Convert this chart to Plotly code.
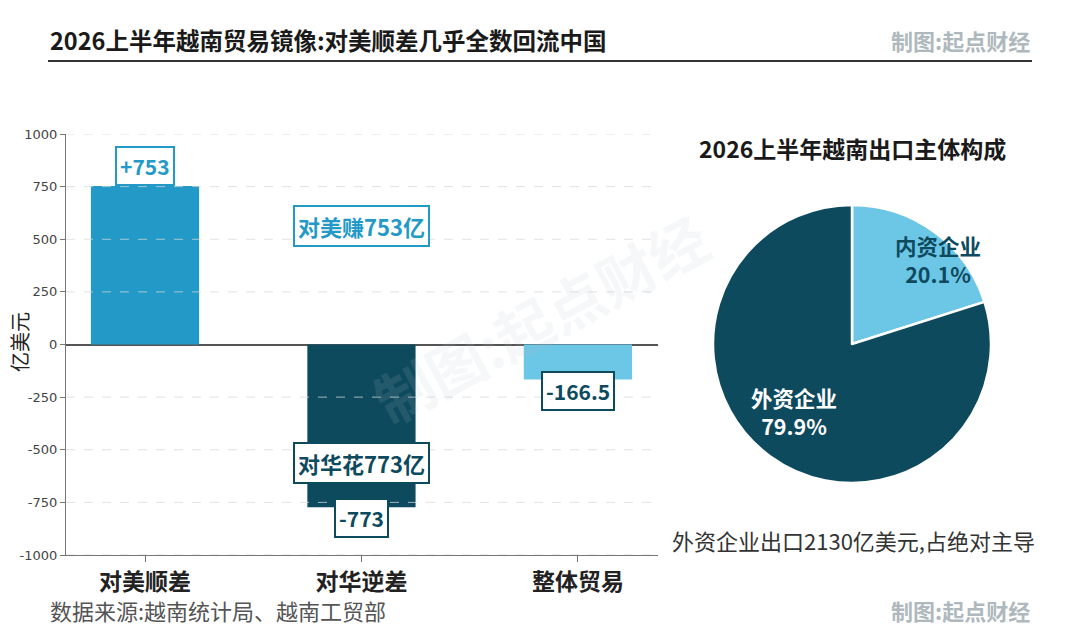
import plotly.graph_objects as go

# ---- data ----
categories = ["对美顺差", "对华逆差", "整体贸易"]
balances = [753, -773, -166.5]
bar_labels = ["+753", "-773", "-166.5"]
bar_colors = ["#2299C6", "#0E4A5E", "#6CC6E6"]
y_ticks = [-1000, -750, -500, -250, 0, 250, 500, 750, 1000]
y_tick_labels = ["-1000", "-750", "-500", "-250", "0", "250", "500", "750", "1000"]

pie_labels = ["内资企业", "外资企业"]
pie_values = [20.1, 79.9]
pie_colors = ["#6CC6E6", "#0E4A5E"]
pie_text_colors = ["#0E4A5E", "#FFFFFF"]

FONT = "Noto Sans CJK SC"
OFF = 8                      # page body margin
W, H = 1064, 622


def fx(s):
    return (s - OFF) / W


def fy(s):
    return 1 - (s - OFF) / H


fig = go.Figure()

fig.add_trace(go.Bar(
    x=list(range(len(categories))), y=balances, width=0.5,
    marker=dict(color=bar_colors, line=dict(width=0)),
    showlegend=False, hoverinfo="skip",
))

fig.add_trace(go.Pie(
    labels=pie_labels, values=pie_values, sort=False, direction="clockwise",
    rotation=0, marker=dict(colors=pie_colors, line=dict(color="white", width=2.5)),
    textinfo="none",
    domain=dict(x=[fx(713), fx(991)], y=[fy(483), fy(205)]),
    showlegend=False, hoverinfo="skip",
))

fig.update_layout(
    width=W, height=H, margin=dict(l=0, r=0, t=0, b=0, autoexpand=False),
    paper_bgcolor="white", plot_bgcolor="white",
    font=dict(family=FONT, color="#333"),
    xaxis=dict(
        domain=[fx(66), fx(658)], range=[-0.365, 2.37], automargin=False,
        tickmode="array", tickvals=list(range(len(categories))), ticktext=categories,
        tickfont=dict(size=23, color="#222", family=FONT, weight="bold"),
        ticks="outside", ticklen=6, tickcolor="#777",
        showline=True, linecolor="#777", linewidth=1.2,
        showgrid=False, zeroline=False, anchor="y",
    ),
    yaxis=dict(
        domain=[fy(555), fy(134)], range=[-1000, 1000], automargin=False,
        tickmode="array", tickvals=y_ticks, ticktext=y_tick_labels,
        tickfont=dict(size=13, color="#444", family="DejaVu Sans"),
        ticks="outside", ticklen=5, tickcolor="#777",
        showline=True, linecolor="#777", linewidth=1.2,
        showgrid=False,
        zeroline=True, zerolinecolor="#555", zerolinewidth=1.5,
        anchor="x",
    ),
)

# dashed grid drawn above the bars, as in the reference
for t in y_ticks:
    if t == 0:
        continue
    fig.add_hline(y=t, line=dict(color="rgba(215,215,215,0.75)", width=1, dash="dash"),
                  layer="above")

ann = []
# bar value labels
for i, (v, t) in enumerate(zip(balances, bar_labels)):
    tc = "#2299C6" if v > 0 else "#0E4A5E"
    ann.append(dict(
        x=i, y=v, xref="x", yref="y", text=f"<b>{t}</b>", showarrow=False,
        yanchor="bottom" if v > 0 else "top", yshift=0 if v > 0 else 9,
        font=dict(size=21, color=tc, family=FONT),
        bgcolor="white", bordercolor=tc, borderwidth=2, borderpad=3,
    ))
# callouts
ann.append(dict(
    x=1, y=balances[0] * 0.745, xref="x", yref="y", text="<b>对美赚753亿</b>",
    showarrow=False, font=dict(size=22, color="#2299C6", family=FONT),
    bgcolor="white", bordercolor="#2299C6", borderwidth=2, borderpad=3,
))
ann.append(dict(
    x=1, y=balances[1] * 0.73, xref="x", yref="y", text="<b>对华花773亿</b>",
    showarrow=False, font=dict(size=22, color="#0E4A5E", family=FONT),
    bgcolor="white", bordercolor="#0E4A5E", borderwidth=2, borderpad=3,
))
# pie labels
pie_label_pos = [(938, 259), (794, 411)]
for lab, val, col, (px, py) in zip(pie_labels, pie_values, pie_text_colors, pie_label_pos):
    ann.append(dict(
        x=fx(px), y=fy(py), xref="paper", yref="paper", showarrow=False,
        xanchor="center", yanchor="middle",
        text=f"<b>{lab}<br>{val:.1f}%</b>", align="center",
        font=dict(size=21.5, color=col, family=FONT),
    ))
# y axis title
ann.append(dict(
    x=fx(19), y=fy(342), xref="paper", yref="paper", showarrow=False,
    xanchor="center", yanchor="middle", textangle=-90,
    text="亿美元", font=dict(size=20, color="#222", family=FONT),
))
# titles & credits
ann += [
    dict(x=fx(48), y=fy(40), xref="paper", yref="paper", xanchor="left", yanchor="middle",
         text="<b>2026上半年越南贸易镜像:对美顺差几乎全数回流中国</b>", showarrow=False,
         font=dict(size=23.5, color="#1A1A1A")),
    dict(x=fx(1032), y=fy(40), xref="paper", yref="paper", xanchor="right", yanchor="middle",
         text="<b>制图:起点财经</b>", showarrow=False, font=dict(size=22, color="#AEB8BD")),
    dict(x=fx(48), y=fy(610), xref="paper", yref="paper", xanchor="left", yanchor="middle",
         text="数据来源:越南统计局、越南工贸部", showarrow=False, font=dict(size=22, color="#555")),
    dict(x=fx(1032), y=fy(610), xref="paper", yref="paper", xanchor="right", yanchor="middle",
         text="<b>制图:起点财经</b>", showarrow=False, font=dict(size=22, color="#AEB8BD")),
    dict(x=fx(852), y=fy(148), xref="paper", yref="paper", xanchor="center", yanchor="middle",
         text="<b>2026上半年越南出口主体构成</b>", showarrow=False, font=dict(size=23, color="#1A1A1A")),
    dict(x=fx(853), y=fy(540), xref="paper", yref="paper", xanchor="center", yanchor="middle",
         text="外资企业出口2130亿美元,占绝对主导", showarrow=False, font=dict(size=22, color="#333")),
    dict(x=fx(540), y=fy(318), xref="paper", yref="paper", xanchor="center", yanchor="middle",
         text="<b>制图:起点财经</b>", showarrow=False, textangle=-28,
         font=dict(size=58, color="rgba(180,195,200,0.13)")),
]
fig.update_layout(annotations=ann)

fig.add_shape(type="line", xref="paper", yref="paper",
              x0=fx(48), x1=fx(1032), y0=fy(61), y1=fy(61),
              line=dict(color="#333", width=2))

fig.write_html("out.html")
